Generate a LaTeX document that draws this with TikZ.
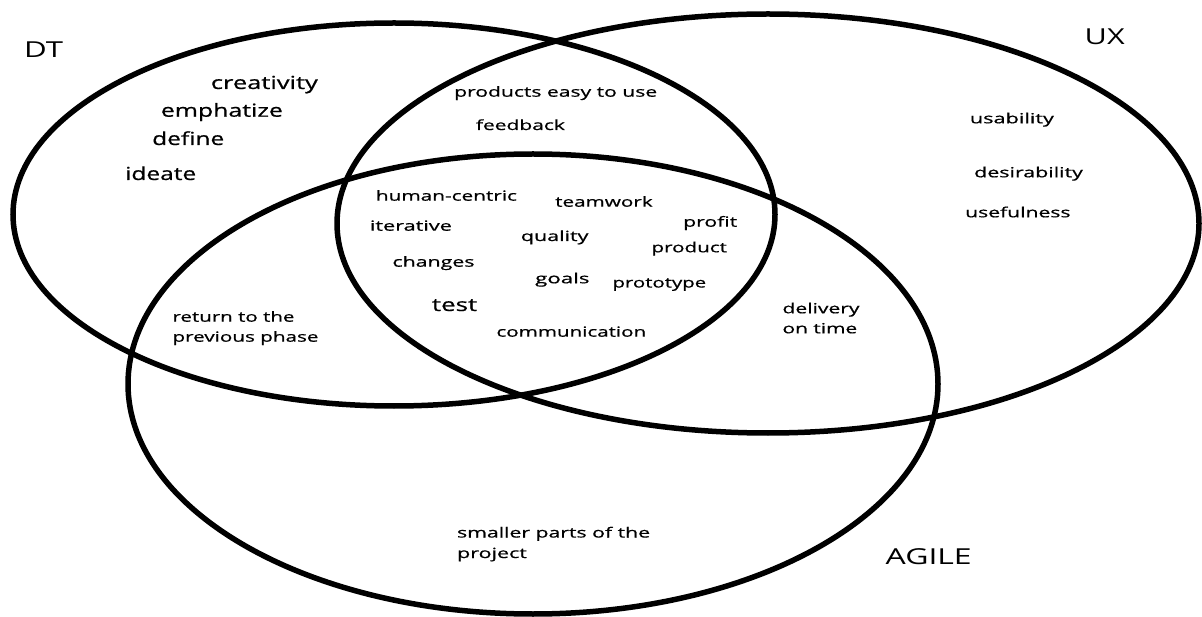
\documentclass[tikz,border=0pt]{standalone}
\usepackage{fontspec}
\setmainfont{Open Sans}
\newfontfamily\txtfont{Open Sans}[FakeBold=0.6]
\usepackage{graphicx}
\newcommand{\tw}[2]{\resizebox{#1pt}{\height}{#2}}
\tikzset{
  ring/.style={draw=black, line width=5.5pt},
  big/.style={font=\txtfont\fontsize{18}{20}\selectfont, anchor=base west, inner sep=0pt, text=black},
  small/.style={font=\txtfont\fontsize{14}{16}\selectfont, anchor=base west, inner sep=0pt, text=black},
  lab/.style={font=\fontsize{22}{24}\selectfont, anchor=base west, inner sep=0pt, text=black}
}
\begin{document}
\begin{tikzpicture}[x=1pt,y=1pt]
\useasboundingbox (0,0) rectangle (1202,-617);
\fill[white] (0,0) rectangle (1202,-617);
% sets
\draw[ring] (394,-214.5) ellipse [x radius=381, y radius=191.5];
\draw[ring] (768,-223.5) ellipse [x radius=431, y radius=209.5];
\draw[ring] (533,-384) ellipse [x radius=405, y radius=230];
% set labels
\node[lab] (dt) at (24,-57.3) {\tw{39}{DT}};
\node[lab] (ux) at (1084.5,-45) {\tw{40}{UX}};
\node[lab] (agile) at (885.5,-564) {\tw{86}{AGILE}};
% DT only
\node[big] (creativity) at (210.7,-89) {\tw{107}{creativity}};
\node[big] (emphatize) at (160.7,-116.7) {\tw{122}{emphatize}};
\node[big] (define) at (152,-145) {\tw{72}{define}};
\node[big] (ideate) at (125,-180) {\tw{71}{ideate}};
% DT and UX
\node[small] (easy) at (454,-96.7) {\tw{203}{products easy to use}};
\node[small] (feedback) at (475.7,-130) {\tw{89}{feedback}};
% all three
\node[small] (human) at (375.7,-200.7) {\tw{141}{human-centric}};
\node[small] (teamwork) at (555,-206.7) {\tw{97.5}{teamwork}};
\node[small] (iterative) at (369.7,-230.7) {\tw{82}{iterative}};
\node[small] (profit) at (683,-226.7) {\tw{54}{profit}};
\node[small] (quality) at (520.7,-241) {\tw{67.5}{quality}};
\node[small] (product) at (651.3,-252.3) {\tw{75.4}{product}};
\node[small] (changes) at (392.3,-266.7) {\tw{82}{changes}};
\node[small] (goals) at (535,-283.3) {\tw{54.3}{goals}};
\node[small] (prototype) at (612.3,-287.5) {\tw{93.7}{prototype}};
\node[big] (test) at (431.7,-311) {\tw{45.3}{test}};
\node[small] (communication) at (496.3,-336.7) {\tw{149.7}{communication}};
% UX only
\node[small] (usability) at (969.7,-123.3) {\tw{84}{usability}};
\node[small] (desirability) at (974,-177.3) {\tw{108.7}{desirability}};
\node[small] (usefulness) at (965,-217.3) {\tw{105.3}{usefulness}};
% DT and AGILE
\node[small] (return1) at (172.3,-321.7) {\tw{122}{return to the}};
\node[small] (return2) at (172.3,-341.7) {\tw{146}{previous phase}};
% UX and AGILE
\node[small] (delivery) at (782.3,-313.3) {\tw{77}{delivery}};
\node[small] (ontime) at (782.3,-333.3) {\tw{74.7}{on time}};
% AGILE only
\node[small] (smaller1) at (456.9,-537.5) {\tw{193}{smaller parts of the}};
\node[small] (smaller2) at (456.9,-558) {\tw{69.8}{project}};
\end{tikzpicture}
\end{document}
